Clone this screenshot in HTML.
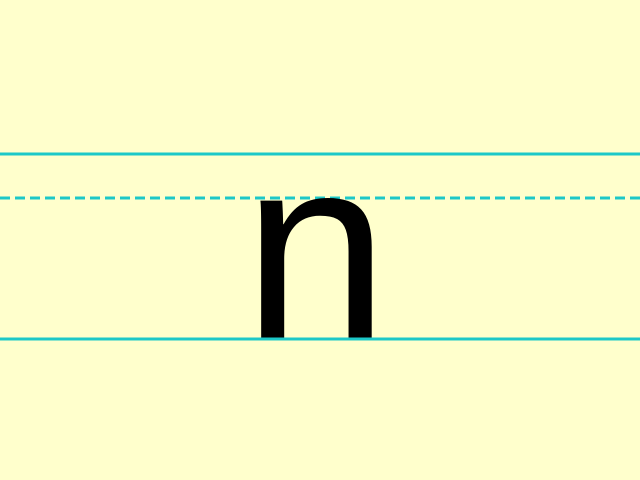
<!DOCTYPE html>
<html><head><meta charset="utf-8"><style>html,body{margin:0;padding:0;background:#ffffcc;width:640px;height:480px;overflow:hidden;}svg{display:block;}</style></head>
<body>
<svg width="640" height="480" xmlns="http://www.w3.org/2000/svg">
<rect width="640" height="480" fill="#ffffcc"/>
<line x1="0" y1="154" x2="640" y2="154" stroke="#1cc8c8" stroke-width="3"/>
<line x1="0" y1="198" x2="640" y2="198" stroke="#1cc8c8" stroke-width="3" stroke-dasharray="10,5"/>
<text x="243" y="339" font-family="Liberation Sans, sans-serif" font-size="262" fill="#000">n</text>
<line x1="0" y1="339" x2="640" y2="339" stroke="#1cc8c8" stroke-width="3"/>
</svg>
</body></html>
